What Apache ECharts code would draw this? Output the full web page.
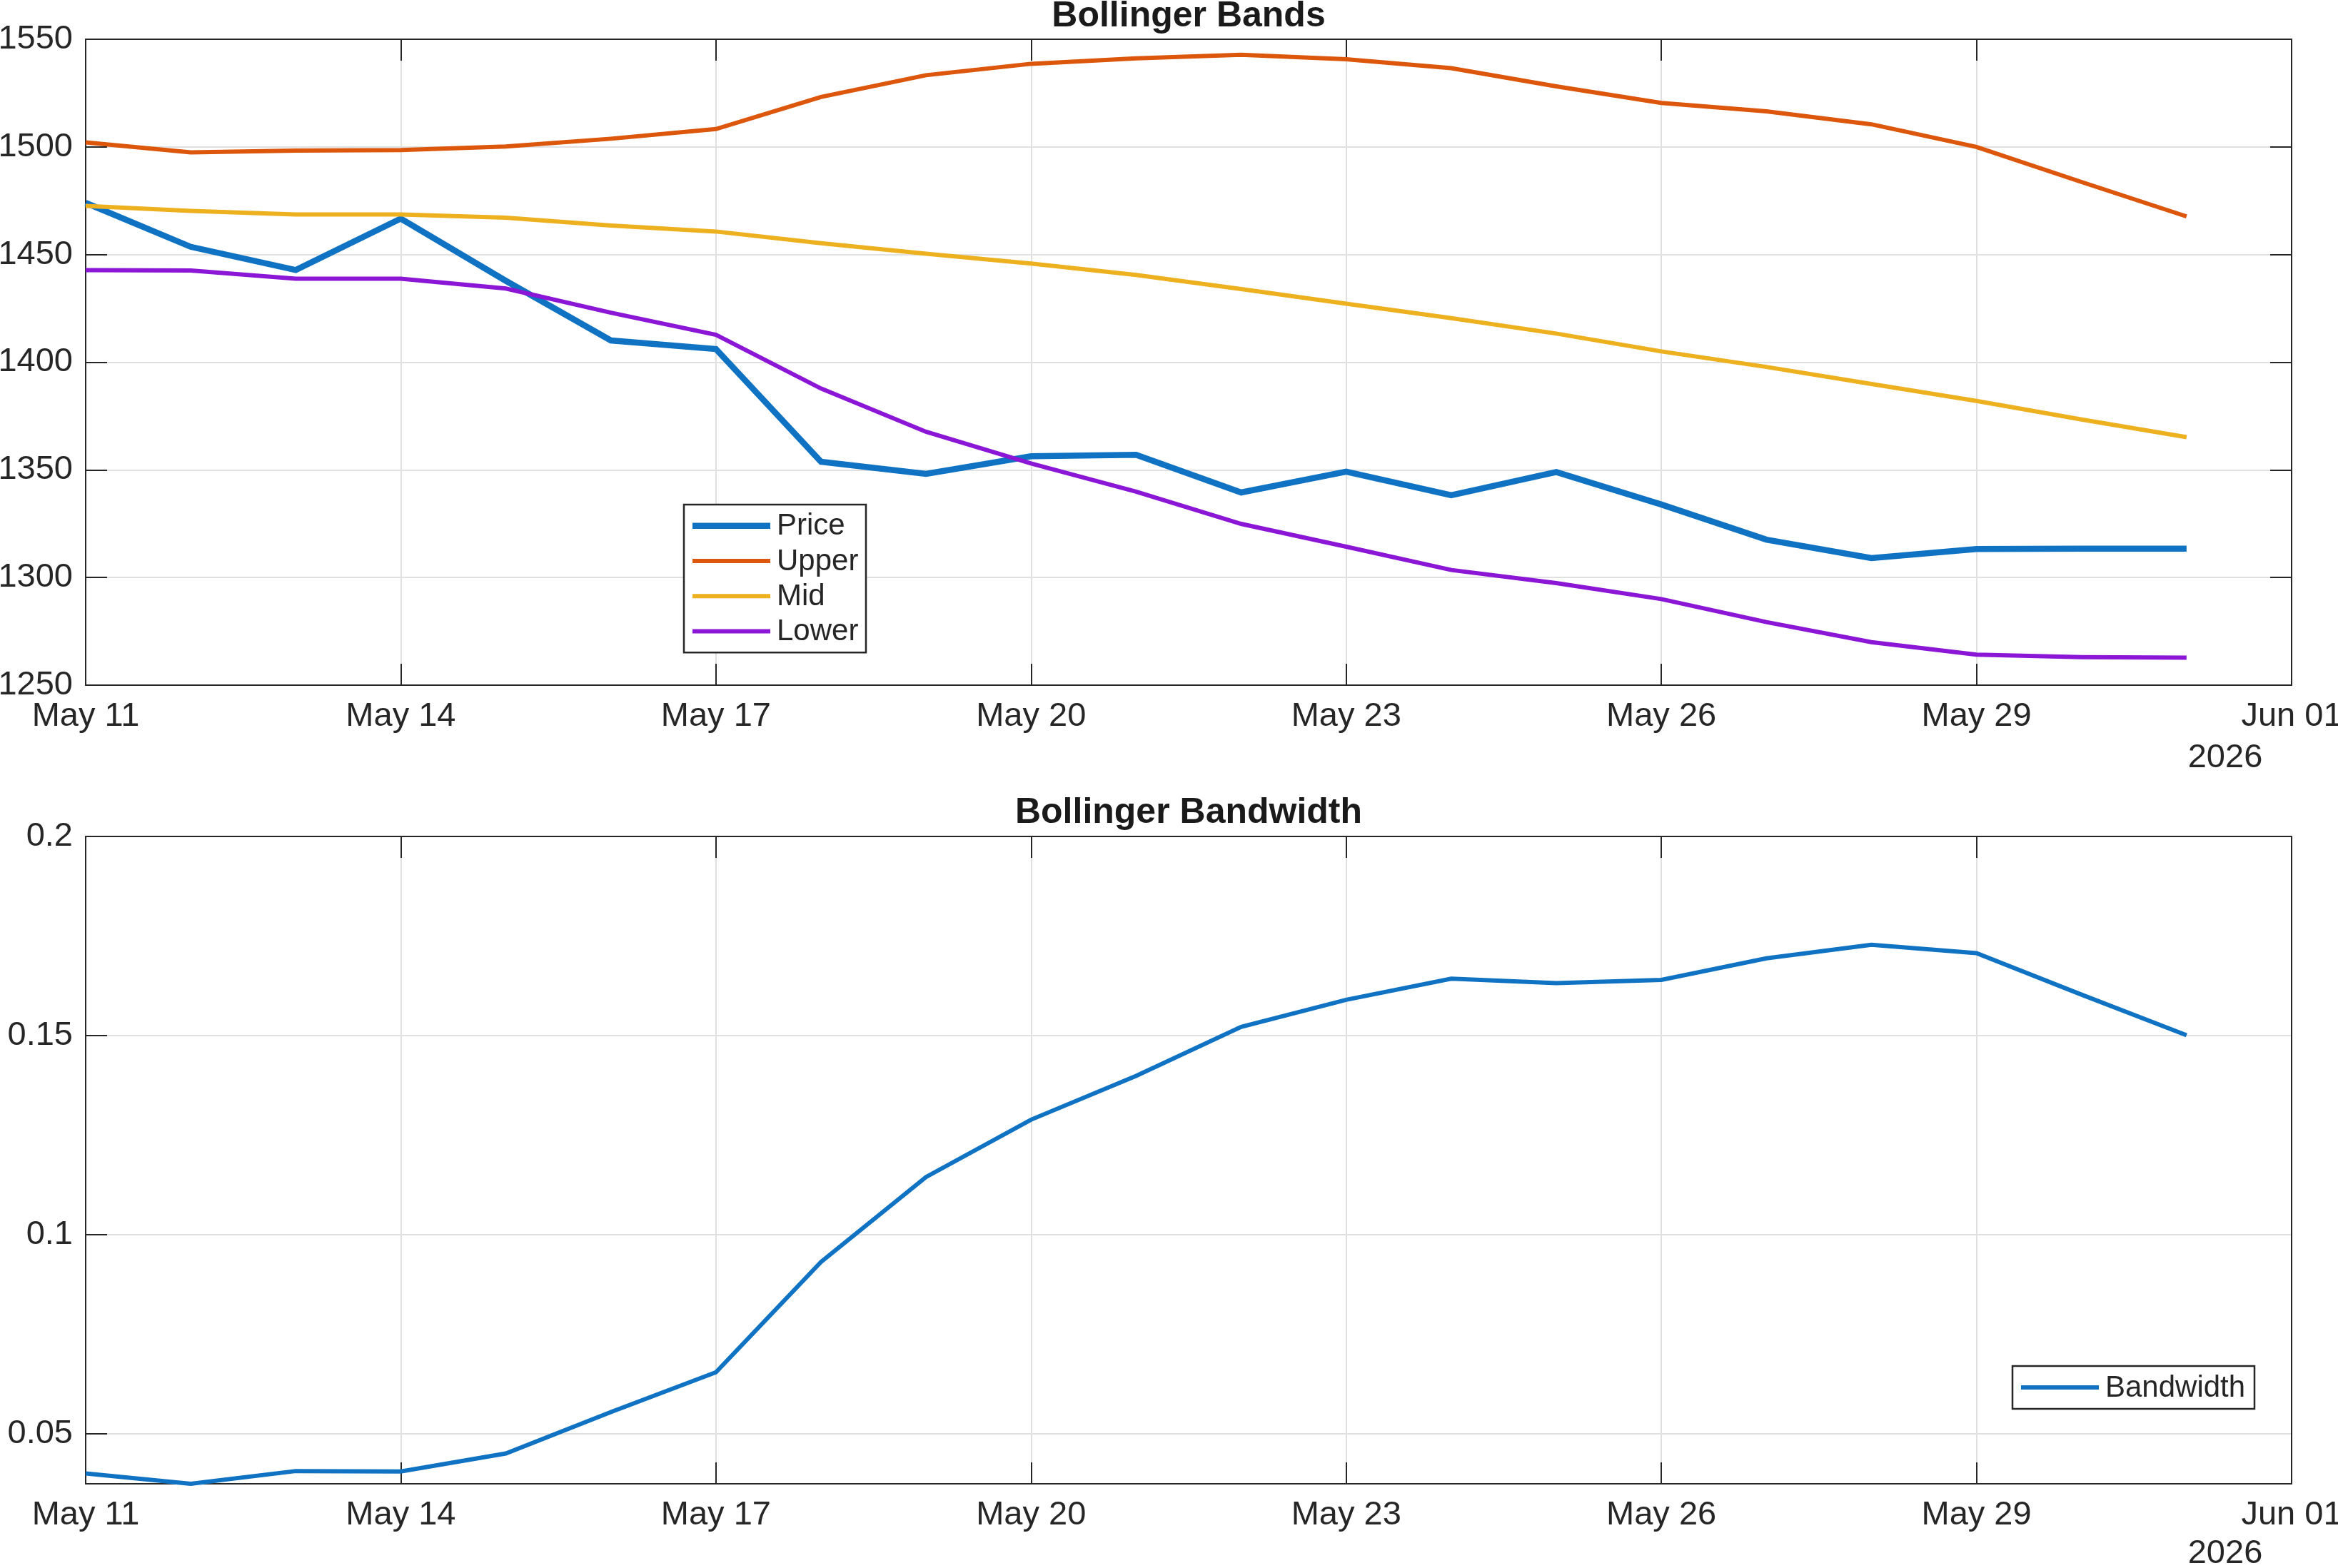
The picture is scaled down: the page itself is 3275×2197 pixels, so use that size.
<!DOCTYPE html>
<html>
<head>
<meta charset="utf-8">
<title>Bollinger Bands</title>
<script src="https://cdn.jsdelivr.net/npm/echarts@6/dist/echarts.min.js"></script>
<style>
    html, body { margin: 0; padding: 0; background: #fff; }
    #chart { width: 3275px; height: 2197px; }
</style>
</head>
<body>
<div id="chart"></div>
<script>
// daily closes, May 11 .. May 31 2026
const dates = ['2026-05-11', '2026-05-12', '2026-05-13', '2026-05-14', '2026-05-15', '2026-05-16', '2026-05-17',
    '2026-05-18', '2026-05-19', '2026-05-20', '2026-05-21', '2026-05-22', '2026-05-23', '2026-05-24',
    '2026-05-25', '2026-05-26', '2026-05-27', '2026-05-28', '2026-05-29', '2026-05-30', '2026-05-31'];

const price = [1474.0, 1453.6, 1442.8, 1466.7, 1437.8, 1410.1, 1406.1, 1353.8, 1348.1, 1356.3, 1357.0,
    1339.5, 1349.2, 1338.2, 1349.0, 1333.9, 1317.6, 1309.0, 1313.2, 1313.4, 1313.4];
const upper = [1502.1, 1497.5, 1498.3, 1498.5, 1500.2, 1503.8, 1508.3, 1523.2, 1533.3, 1538.6, 1541.1,
    1542.8, 1540.7, 1536.6, 1528.1, 1520.4, 1516.5, 1510.5, 1500.0, 1483.7, 1467.7];
const mid = [1472.6, 1470.3, 1468.6, 1468.6, 1467.1, 1463.5, 1460.7, 1455.3, 1450.4, 1445.8, 1440.5,
    1434.0, 1427.2, 1420.5, 1413.3, 1405.0, 1397.8, 1389.9, 1382.0, 1373.4, 1365.2];
const lower = [1442.8, 1442.6, 1438.8, 1438.8, 1434.2, 1423.0, 1412.7, 1387.8, 1367.7, 1353.0, 1339.9,
    1324.9, 1314.3, 1303.5, 1297.4, 1290.0, 1279.3, 1270.0, 1264.2, 1263.0, 1262.8];
const bandwidth = [0.0401, 0.0375, 0.0407, 0.0406, 0.0451, 0.0555, 0.0655, 0.0932, 0.1145, 0.1289, 0.1399,
    0.1522, 0.1590, 0.1643, 0.1632, 0.1640, 0.1694, 0.1728, 0.1707, 0.1603, 0.1501];

// x ticks every 3 days from May 11 to Jun 01
const xTickLabels = ['May 11', 'May 14', 'May 17', 'May 20', 'May 23', 'May 26', 'May 29', 'Jun 01'];

const DAY = 86400000;
const t0 = Date.parse(dates[0]);
const dayOffset = d => Math.round((Date.parse(d) - t0) / DAY);
const pairs = vals => dates.map((d, i) => [dayOffset(d), vals[i]]);

const FONT = '"Liberation Sans", Arial, Helvetica, sans-serif';
const INK = '#262626';
const GRID_LINE = '#e0e0e0';

const chartDom = document.getElementById('chart');
const chart = echarts.init(chartDom);

const xAxisFor = (gridIndex, main) => ({
    type: 'value',
    gridIndex: gridIndex,
    position: main ? 'bottom' : 'top',
    min: 0,
    max: 21,
    interval: 3,
    axisLine: { show: true, onZero: false, lineStyle: { color: INK, width: 2 } },
    axisTick: { show: true, inside: true, length: 30, lineStyle: { color: INK, width: 2 } },
    axisLabel: {
        show: main,
        margin: 21,
        fontSize: 47,
        fontFamily: FONT,
        color: INK,
        formatter: v => xTickLabels[Math.round(v / 3)]
    },
    splitLine: { show: main, lineStyle: { color: GRID_LINE, width: 2 } }
});

const yAxisFor = (gridIndex, main, extra) => Object.assign({
    type: 'value',
    gridIndex: gridIndex,
    position: main ? 'left' : 'right',
    axisLine: { show: true, onZero: false, lineStyle: { color: INK, width: 2 } },
    axisTick: { show: true, inside: true, length: 30, lineStyle: { color: INK, width: 2 } },
    axisLabel: {
        show: main, margin: 18, fontSize: 47, fontFamily: FONT, color: INK,
        showMinLabel: gridIndex === 0,
        formatter: v => String(+v.toFixed(4))
    },
    splitLine: { show: main, lineStyle: { color: GRID_LINE, width: 2 } }
}, extra);

const bandsY = { min: 1250, max: 1550, interval: 50 };
// bandwidth axis starts at the data minimum, ticks every 0.05
const bwY = { min: 'dataMin', max: 0.2, splitNumber: 3, minInterval: 0.05, maxInterval: 0.05 };

const lineSeries = (name, vals, color, width, xi, yi) => ({
    name: name,
    type: 'line',
    xAxisIndex: xi,
    yAxisIndex: yi,
    data: pairs(vals),
    symbol: 'none',
    lineStyle: { color: color, width: width, cap: 'butt', join: 'miter' },
    itemStyle: { color: color }
});

// legend boxes drawn as plain graphics, like MATLAB's
const legendGraphic = (x, y, w, rowH, items) => {
    const els = [{
        type: 'rect',
        shape: { x: x, y: y, width: w, height: rowH * items.length + 10 },
        style: { fill: '#fff', stroke: INK, lineWidth: 2.5 },
        z: 100
    }];
    items.forEach((it, i) => {
        const cy = y + 5 + rowH * (i + 0.5);
        els.push({
            type: 'line',
            shape: { x1: x + 12, y1: cy, x2: x + 121, y2: cy },
            style: { stroke: it.color, lineWidth: it.width },
            z: 101
        });
        els.push({
            type: 'text',
            style: {
                text: it.name, x: x + 130, y: cy + 1,
                font: '42px ' + FONT, fill: INK,
                align: 'left', verticalAlign: 'middle',
                textAlign: 'left', textVerticalAlign: 'middle'
            },
            z: 101
        });
    });
    return els;
};

const textEl = (text, x, y, size, weight) => ({
    type: 'text',
    style: {
        text: text, x: x, y: y,
        font: (weight || 'normal') + ' ' + size + 'px ' + FONT,
        fill: weight === 'bold' ? '#1a1a1a' : INK,
        align: 'center', verticalAlign: 'middle',
        textAlign: 'center', textVerticalAlign: 'middle'
    },
    z: 90
});

const COLORS = { price: '#0f72c2', upper: '#dc560b', mid: '#edb120', lower: '#8b16d6' };

const option = {
    backgroundColor: '#fff',
    animation: false,
    grid: [
        { left: 120, top: 55, width: 3090, height: 905, outerBoundsMode: 'none', containLabel: false },
        { left: 120, top: 1172, width: 3090, height: 907, outerBoundsMode: 'none', containLabel: false }
    ],
    xAxis: [xAxisFor(0, true), xAxisFor(0, false), xAxisFor(1, true), xAxisFor(1, false)],
    yAxis: [
        yAxisFor(0, true, bandsY),
        yAxisFor(0, false, bandsY),
        yAxisFor(1, true, bwY),
        yAxisFor(1, false, bwY)
    ],
    series: [
        lineSeries('Price', price, COLORS.price, 8.5, 0, 0),
        lineSeries('Upper', upper, COLORS.upper, 6, 0, 0),
        lineSeries('Mid', mid, COLORS.mid, 6, 0, 0),
        lineSeries('Lower', lower, COLORS.lower, 6, 0, 0),
        lineSeries('Bandwidth', bandwidth, COLORS.price, 6, 2, 2)
    ],
    graphic: [].concat(
        [
            textEl('Bollinger Bands', 1665, 23, 50, 'bold'),
            textEl('Bollinger Bandwidth', 1665, 1139, 50, 'bold'),
            textEl('2026', 3117, 1062, 47),
            textEl('2026', 3117, 2177, 47)
        ],
        legendGraphic(958, 707, 255, 49.3, [
            { name: 'Price', color: COLORS.price, width: 8.5 },
            { name: 'Upper', color: COLORS.upper, width: 6 },
            { name: 'Mid', color: COLORS.mid, width: 6 },
            { name: 'Lower', color: COLORS.lower, width: 6 }
        ]),
        legendGraphic(2819, 1914, 339, 50, [
            { name: 'Bandwidth', color: COLORS.price, width: 6 }
        ])
    )
};

chart.setOption(option);
window.addEventListener('resize', chart.resize);
</script>
</body>
</html>
